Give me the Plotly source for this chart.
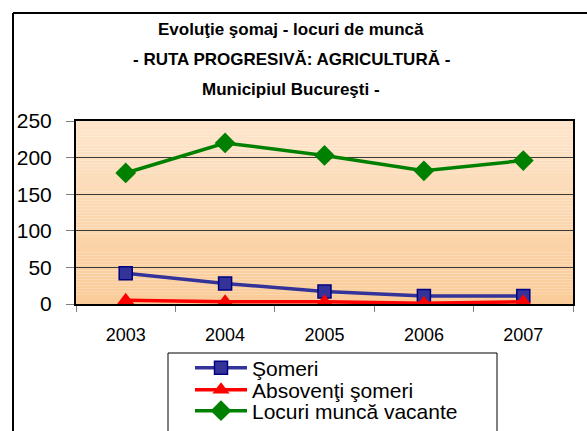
import plotly.graph_objects as go

years = ["2003", "2004", "2005", "2006", "2007"]
someri = [42, 28, 17, 11, 11]
absolventi = [5, 3, 3, 1, 3]
locuri = [179, 220, 203, 182, 196]

names = ["Şomeri", "Absovenţi şomeri", "Locuri muncă vacante"]
title_lines = ["Evoluţie şomaj - locuri de muncă",
               "- RUTA PROGRESIVĂ: AGRICULTURĂ -",
               "Municipiul Bucureşti -"]
y_ticks = [0, 50, 100, 150, 200, 250]

W, H = 587, 431
L, R, T, B = 76, 573, 121, 304
pw, ph = R - L, B - T

def px(x):
    return (x - L) / pw

def py(y):
    return (B - y) / ph

FONT = "Liberation Sans, Arial"

fig = go.Figure()
fig.add_trace(go.Scatter(x=years, y=someri, name=names[0], mode="lines+markers",
                         legend="legend",
                         line=dict(color="#333399", width=3.5),
                         marker=dict(symbol="square", size=13, color="#333399",
                                     line=dict(color="#000080", width=1.5))))
fig.add_trace(go.Scatter(x=years, y=absolventi, name=names[1], mode="lines+markers",
                         legend="legend2",
                         line=dict(color="#FF0000", width=3.5),
                         marker=dict(symbol="triangle-up", size=15, color="#FF0000")))
fig.add_trace(go.Scatter(x=years, y=locuri, name=names[2], mode="lines+markers",
                         legend="legend3",
                         line=dict(color="#008000", width=3.5),
                         marker=dict(symbol="diamond", size=16, color="#008000")))

shapes = []
n = 60
top = (253, 229, 203)
bot = (250, 203, 152)
for i in range(n):
    f = (i + 0.5) / n
    c = tuple(round(bot[k] + (top[k] - bot[k]) * f) for k in range(3))
    shapes.append(dict(type="rect", xref="paper", yref="paper", x0=0, x1=1,
                       y0=i / n, y1=(i + 1) / n, fillcolor="rgb(%d,%d,%d)" % c,
                       line=dict(width=0), layer="below"))
# outer chart border (left and top)
shapes.append(dict(type="line", xref="paper", yref="paper", x0=px(13), x1=px(13),
                   y0=py(13), y1=py(H + 5), line=dict(color="black", width=2)))
shapes.append(dict(type="line", xref="paper", yref="paper", x0=px(13), x1=px(W + 5),
                   y0=py(13), y1=py(13), line=dict(color="black", width=2)))
# legend box
shapes.append(dict(type="rect", xref="paper", yref="paper", x0=px(168), x1=px(497),
                   y0=py(353), y1=py(H + 5), fillcolor="white",
                   line=dict(color="black", width=1), layer="above"))

annotations = []
for i, t in enumerate(title_lines):
    annotations.append(dict(text="<b>" + t + "</b>", xref="paper", yref="paper",
                            x=px(291), y=py(29 + 30 * i), xanchor="center", yanchor="middle",
                            showarrow=False,
                            font=dict(family=FONT, size=17, color="black")))

def leg(ypix):
    return dict(x=px(190), y=py(ypix), xanchor="left", yanchor="middle",
                borderwidth=0, bgcolor="rgba(0,0,0,0)",
                font=dict(family=FONT, size=21, color="black"),
                itemwidth=52)

fig.update_layout(
    width=W, height=H,
    margin=dict(l=L, r=W - R, t=T, b=H - B, autoexpand=False),
    paper_bgcolor="white", plot_bgcolor="rgba(0,0,0,0)",
    shapes=shapes, annotations=annotations,
    showlegend=True,
    legend=leg(368), legend2=leg(390), legend3=leg(411),
    xaxis=dict(type="category", range=[-0.5, 4.5], tickson="boundaries",
               ticks="outside", ticklen=6, tickcolor="#808080", tickwidth=1,
               showline=True, linecolor="black", linewidth=2, mirror=True,
               showgrid=False, ticklabelstandoff=13,
               tickfont=dict(family=FONT, size=18, color="black")),
    yaxis=dict(range=[0, 250], tickvals=y_ticks, ticks="outside", ticklen=8,
               tickcolor="#808080", tickwidth=1,
               showline=True, linecolor="black", linewidth=2, mirror=True,
               showgrid=True, gridcolor="#3a3a3a", gridwidth=1, zeroline=False,
               ticklabelstandoff=10,
               tickfont=dict(family=FONT, size=21, color="black")),
)

fig.write_html("out.html", config={"displayModeBar": False},
               post_script="document.body.style.margin='0';document.body.style.overflow='hidden';")
